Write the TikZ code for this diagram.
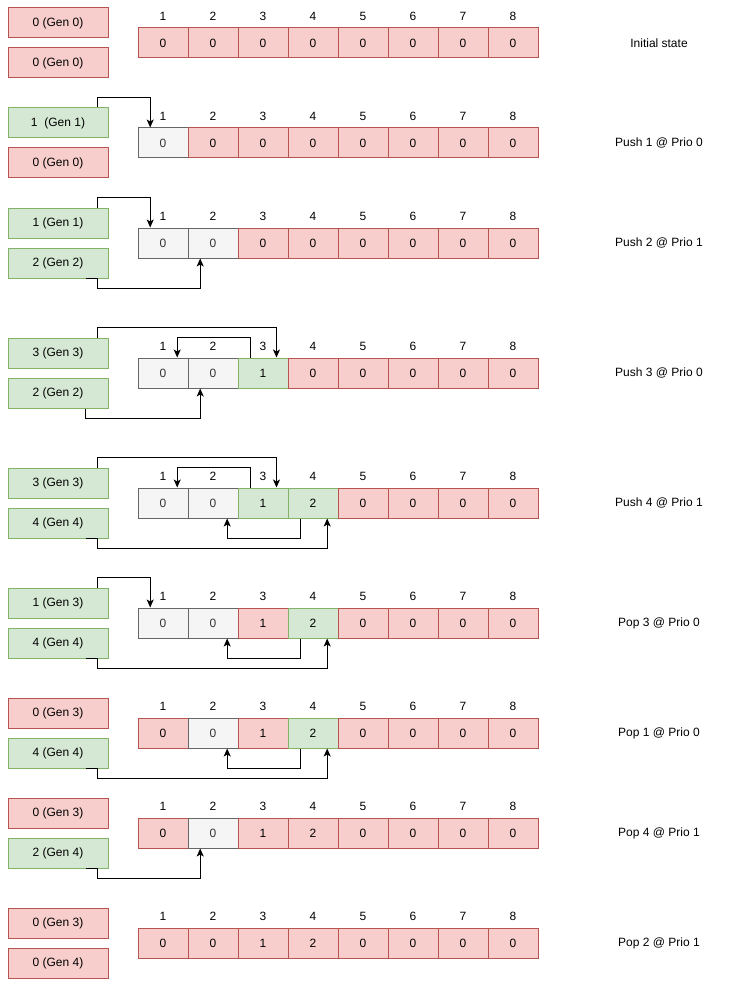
\documentclass[tikz,border=0pt]{standalone}
\usepackage{fontspec}
\setmainfont{Liberation Sans}
\usetikzlibrary{arrows.meta}
\definecolor{rfill}{HTML}{F8CECC}\definecolor{rdraw}{HTML}{B85450}
\definecolor{gfill}{HTML}{D5E8D4}\definecolor{gdraw}{HTML}{82B366}
\definecolor{yfill}{HTML}{F5F5F5}\definecolor{ydraw}{HTML}{666666}\definecolor{ytext}{HTML}{333333}
\newcommand\cellrow[3]{\foreach \i/\s/\v in {#3} {\node[\s,cell] (c#1\i) at (113+50*\i,#2) {\v}; \node[lab] (n#1\i) at (113+50*\i,#2-27) {\i};}}
\begin{document}
\begin{tikzpicture}[x=1pt,y=-1pt,font=\fontsize{12}{14}\selectfont,
  base/.style={minimum height=30pt,inner sep=0pt,line width=1pt},
  rc/.style={base,draw=rdraw,fill=rfill},
  gc/.style={base,draw=gdraw,fill=gfill},
  yc/.style={base,draw=ydraw,fill=yfill,text=ytext},
  box/.style={minimum width=100pt},
  cell/.style={minimum width=50pt},
  lab/.style={inner sep=0pt},
  arr/.style={line width=1pt,-{Stealth[length=8pt,width=7pt,inset=2pt]}}]
\useasboundingbox (0,0) rectangle (747,987);
% Row 1
\node[rc,box] (a1) at (58,23) {0 (Gen 0)};
\node[rc,box] (b1) at (58,63) {0 (Gen 0)};
\cellrow{1}{43}{1/rc/0,2/rc/0,3/rc/0,4/rc/0,5/rc/0,6/rc/0,7/rc/0,8/rc/0}
\node[lab] (t1) at (659,43) {Initial state};
% Row 2
\node[gc,box] (a2) at (58,123) {1\ \ (Gen 1)};
\node[rc,box] (b2) at (58,163) {0 (Gen 0)};
\cellrow{2}{143}{1/yc/0,2/rc/0,3/rc/0,4/rc/0,5/rc/0,6/rc/0,7/rc/0,8/rc/0}
\node[lab] (t2) at (659,143) {Push 1 @ Prio 0};
\draw[arr] ([xshift=-11.3]a2.north east) -- ++(0,-10) -| ([xshift=12.7]c21.north west);
% Row 3
\node[gc,box] (a3) at (58,223) {1 (Gen 1)};
\node[gc,box] (b3) at (58,263) {2 (Gen 2)};
\cellrow{3}{243}{1/yc/0,2/yc/0,3/rc/0,4/rc/0,5/rc/0,6/rc/0,7/rc/0,8/rc/0}
\node[lab] (t3) at (659,243) {Push 2 @ Prio 1};
\draw[arr] ([xshift=-11.3]a3.north east) -- ++(0,-10) -| ([xshift=12.7]c31.north west);
\draw[arr] ([xshift=-23]b3.south east) -- ([xshift=-11.3]b3.south east) -- ++(0,10) -| ([xshift=12.7]c32.south west);
% Row 4
\node[gc,box] (a4) at (58,353) {3 (Gen 3)};
\node[gc,box] (b4) at (58,393) {2 (Gen 2)};
\cellrow{4}{373}{1/yc/0,2/yc/0,3/gc/1,4/rc/0,5/rc/0,6/rc/0,7/rc/0,8/rc/0}
\node[lab] (t4) at (659,373) {Push 3 @ Prio 0};
\draw[arr] ([xshift=-11.3]a4.north east) -- ++(0,-10) -| ([xshift=-12]c43.north east);
\draw[arr] ([xshift=12.7]c43.north west) -- ++(0,-20) -| ([xshift=-11.3]c41.north east);
\draw[arr] ([xshift=-23]b4.south east) -- ++(0,10) -| ([xshift=12.7]c42.south west);
% Row 5
\node[gc,box] (a5) at (58,483) {3 (Gen 3)};
\node[gc,box] (b5) at (58,523) {4 (Gen 4)};
\cellrow{5}{503}{1/yc/0,2/yc/0,3/gc/1,4/gc/2,5/rc/0,6/rc/0,7/rc/0,8/rc/0}
\node[lab] (t5) at (659,503) {Push 4 @ Prio 1};
\draw[arr] ([xshift=-11.3]a5.north east) -- ++(0,-10) -| ([xshift=-12]c53.north east);
\draw[arr] ([xshift=12.7]c53.north west) -- ++(0,-20) -| ([xshift=-11.3]c51.north east);
\draw[arr] ([xshift=12.7]c54.south west) -- ++(0,20) -| ([xshift=-11.3]c52.south east);
\draw[arr] ([xshift=-23]b5.south east) -- ([xshift=-11.3]b5.south east) -- ++(0,10) -| ([xshift=-11.3]c54.south east);
% Row 6
\node[gc,box] (a6) at (58,603) {1 (Gen 3)};
\node[gc,box] (b6) at (58,643) {4 (Gen 4)};
\cellrow{6}{623}{1/yc/0,2/yc/0,3/rc/1,4/gc/2,5/rc/0,6/rc/0,7/rc/0,8/rc/0}
\node[lab] (t6) at (659,623) {Pop 3 @ Prio 0};
\draw[arr] ([xshift=-11.3]a6.north east) -- ++(0,-10) -| ([xshift=12.7]c61.north west);
\draw[arr] ([xshift=12.7]c64.south west) -- ++(0,20) -| ([xshift=-11.3]c62.south east);
\draw[arr] ([xshift=-23]b6.south east) -- ([xshift=-11.3]b6.south east) -- ++(0,10) -| ([xshift=-11.3]c64.south east);
% Row 7
\node[rc,box] (a7) at (58,713) {0 (Gen 3)};
\node[gc,box] (b7) at (58,753) {4 (Gen 4)};
\cellrow{7}{733}{1/rc/0,2/yc/0,3/rc/1,4/gc/2,5/rc/0,6/rc/0,7/rc/0,8/rc/0}
\node[lab] (t7) at (659,733) {Pop 1 @ Prio 0};
\draw[arr] ([xshift=12.7]c74.south west) -- ++(0,20) -| ([xshift=-11.3]c72.south east);
\draw[arr] ([xshift=-23]b7.south east) -- ([xshift=-11.3]b7.south east) -- ++(0,10) -| ([xshift=-11.3]c74.south east);
% Row 8
\node[rc,box] (a8) at (58,813) {0 (Gen 3)};
\node[gc,box] (b8) at (58,853) {2 (Gen 4)};
\cellrow{8}{833}{1/rc/0,2/yc/0,3/rc/1,4/rc/2,5/rc/0,6/rc/0,7/rc/0,8/rc/0}
\node[lab] (t8) at (659,833) {Pop 4 @ Prio 1};
\draw[arr] ([xshift=-23]b8.south east) -- ([xshift=-11.3]b8.south east) -- ++(0,10) -| ([xshift=12.7]c82.south west);
% Row 9
\node[rc,box] (a9) at (58,923) {0 (Gen 3)};
\node[rc,box] (b9) at (58,963) {0 (Gen 4)};
\cellrow{9}{943}{1/rc/0,2/rc/0,3/rc/1,4/rc/2,5/rc/0,6/rc/0,7/rc/0,8/rc/0}
\node[lab] (t9) at (659,943) {Pop 2 @ Prio 1};
\end{tikzpicture}
\end{document}
